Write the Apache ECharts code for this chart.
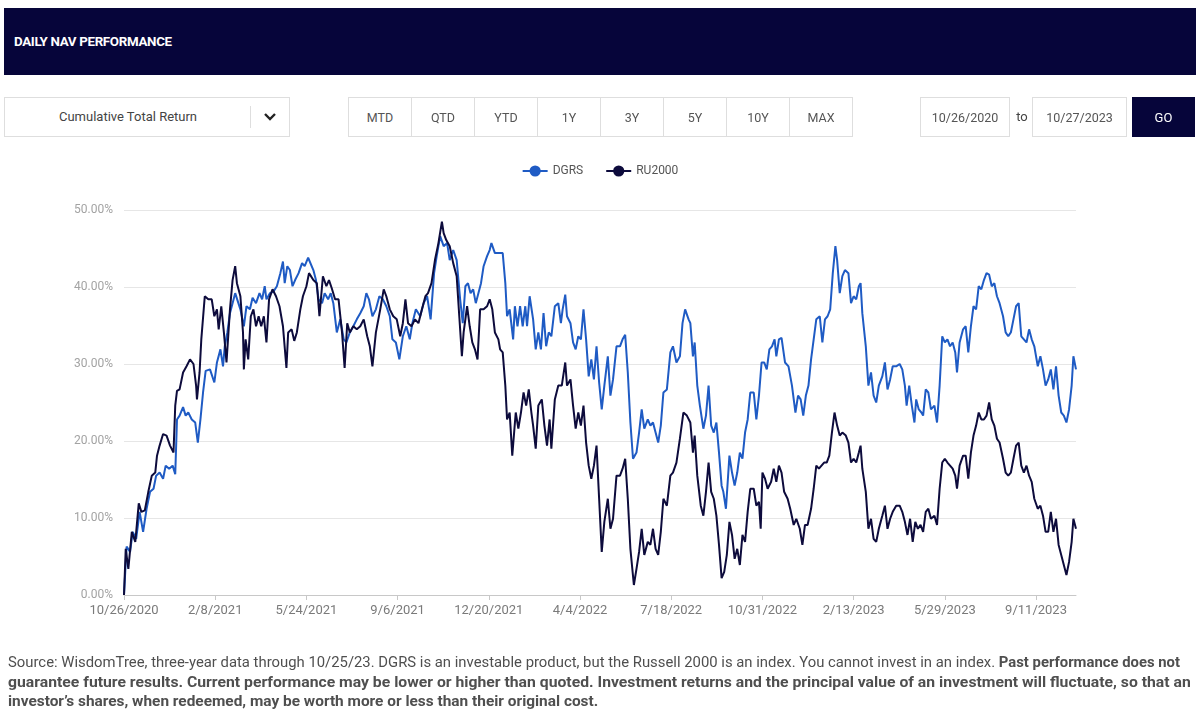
<!DOCTYPE html>
<html>
<head>
<meta charset="utf-8">
<script src="https://cdn.jsdelivr.net/npm/echarts@6/dist/echarts.min.js"></script>
<style>
html,body{margin:0;padding:0;background:#fff;width:1200px;height:722px;overflow:hidden;font-family:Roboto,"Noto Sans",sans-serif;}
#chart{position:absolute;left:0;top:0;width:1200px;height:722px;}
.abs{position:absolute;box-sizing:border-box;}
.header{left:4px;top:8px;width:1192px;height:67px;background:#06053a;}
.title{left:14px;top:34px;color:#fff;font-weight:700;font-size:12px;white-space:nowrap;line-height:16px;transform-origin:left center;letter-spacing:-0.3px;}
.box{border:1px solid #dedede;background:#fff;display:flex;align-items:center;justify-content:center;color:#555;font-size:12.5px;}
.dd{left:4px;top:97px;width:286px;height:40px;border:1px solid #dedede;background:#fff;}
.dd .txt{position:absolute;left:0;width:246px;top:0;height:38px;line-height:38px;text-align:center;font-size:13px;color:#444;}
.dd .sep{position:absolute;left:245px;top:8px;width:1px;height:22px;background:#dedede;}
.dd svg{position:absolute;left:258px;top:13px;}
.btn{top:97px;height:40px;width:64px;}
.go{left:1132px;top:97px;width:63px;height:40px;background:#06053a;color:#fff;font-size:13px;display:flex;align-items:center;justify-content:center;}
.to{left:1013px;top:97px;width:18px;height:40px;line-height:40px;text-align:center;font-size:13px;color:#444;}
.note{left:8px;white-space:nowrap;font-size:14px;line-height:19px;color:#4f4f4f;transform-origin:left center;}
.note b{font-weight:700;}
</style>
</head>
<body>
<div id="chart"></div>
<div class="abs header"></div>
<div class="abs title" id="title">DAILY NAV PERFORMANCE</div>
<div class="abs dd"><div class="txt">Cumulative Total Return</div><div class="sep"></div>
<svg width="14" height="12" viewBox="0 0 14 12"><polyline points="2,3 7,8 12,3" fill="none" stroke="#222" stroke-width="2.4"/></svg></div>
<div id="btns"></div>
<div class="abs box" style="left:920px;top:97px;width:90px;height:40px;">10/26/2020</div>
<div class="abs to">to</div>
<div class="abs box" style="left:1032px;top:97px;width:95px;height:40px;">10/27/2023</div>
<div class="abs go">GO</div>
<div class="abs note" id="n1" style="top:653px;">Source: WisdomTree, three-year data through 10/25/23. DGRS is an investable product, but the Russell 2000 is an index. You cannot invest in an index. <b>Past performance does not</b></div>
<div class="abs note" id="n2" style="top:673px;"><b>guarantee future results. Current performance may be lower or higher than quoted. Investment returns and the principal value of an investment will fluctuate, so that an</b></div>
<div class="abs note" id="n3" style="top:692px;"><b>investor’s shares, when redeemed, may be worth more or less than their original cost.</b></div>
<script>
// ---- data: [days since 10/26/2020, cumulative total return %] ----
const startDate = [2020, 9, 26];
const rangeButtons = ['MTD', 'QTD', 'YTD', '1Y', '3Y', '5Y', '10Y', 'MAX'];
const seriesNames = ['DGRS', 'RU2000'];
const xTickIntervalDays = 105;
const xMaxDays = 1096;
const yTicks = [0, 10, 20, 30, 40, 50];

const dgrsPoints = [
[0,0],[3,6.3],[7,5.6],[10,8.2],[14,7.3],[18,10.8],[22,8.2],[26,11.2],[30,13.4],[34,13.8],[37,15.5],[41,15.9],[45,15.1],[48,16.8],[52,16.4],[56,16.8],[59,15.7],[61,22.8],[64,23.3],[68,24.4],[71,23.3],[74,23.7],[78,22.8],[82,22.4],[85,19.8],[88,22.8],[91,26.3],[94,29.1],[99,29.3],[104,27.6],[107,30.2],[111,31.9],[114,29.7],[116,32.3],[119,34.1],[122,36.6],[128,39.2],[134,37.1],[138,34.9],[141,37.5],[145,37.1],[148,38.6],[152,37.9],[156,39.2],[159,38.4],[162,40.1],[164,38.4],[168,39.2],[172,39.4],[176,40.1],[180,41.8],[183,43.3],[185,40.5],[188,42.7],[191,42.2],[194,40.1],[197,40.9],[201,41.8],[205,43.1],[208,42.7],[212,43.8],
[214,43.8],[218,42.2],[221,40.9],[224,38.4],[228,37.9],[231,39.2],[235,38.4],[238,39.2],[241,37.9],[245,34.1],[249,35.8],[253,33.2],[256,32.8],[260,34.1],[264,34.9],[268,35.8],[272,36.6],[276,37.5],[279,39.2],[282,38.4],[286,36.2],[290,37.1],[294,38.8],[298,38.4],[302,37.5],[306,36.2],[309,33.2],[313,32.8],[317,30.6],[321,33.6],[325,34.9],[329,33.2],[332,35.3],[336,37.1],[341,36.2],[345,37.9],[349,38.8],[353,35.8],[357,41.8],[360,44.0],[364,46.6],[368,45.3],[372,45.7],[375,43.5],[379,44.8],[383,43.5],[387,38.4],[390,35.3],[393,40.1],[396,40.5],[399,39.2],[402,39.7],[405,37.9],[408,39.2],[411,40.5],[414,42.7],[418,44.0],[421,44.8],[423,45.7],[427,44.4],[431,44.4],
[433,44.4],[436,44.4],[439,40.5],[441,36.2],[444,37.1],[448,33.2],[450,37.5],[453,34.9],[456,37.5],[459,34.9],[462,37.5],[464,34.9],[467,38.8],[471,35.8],[474,31.9],[477,34.1],[480,31.9],[483,36.6],[486,32.3],[489,34.1],[492,33.6],[496,37.5],[500,37.9],[503,35.3],[505,37.1],[508,39.0],[510,36.2],[514,35.3],[517,32.8],[520,31.9],[523,33.6],[526,33.2],[529,37.1],[532,33.2],[535,28.4],[538,30.6],[541,28.0],[544,32.3],[547,27.6],[550,24.1],[553,27.2],[557,31.0],[560,25.9],[563,28.0],[567,32.3],[571,32.3],[574,33.2],[577,33.8],[580,28.9],[583,22.4],[586,17.7],[590,18.5],[593,21.1],[596,24.1],[599,21.6],[603,22.8],[606,22.0],[609,22.4],[612,21.1],[615,19.8],[618,22.0],[621,26.3],[625,26.7],[629,31.5],[632,32.3],[636,30.2],[640,31.0],[643,35.3],[646,37.1],[650,35.8],
[652,35.3],[655,31.0],[657,32.8],[660,27.2],[663,24.6],[667,21.6],[670,23.3],[673,27.2],[676,22.0],[679,21.1],[682,22.4],[685,18.5],[688,14.2],[690,13.4],[693,11.2],[697,18.1],[700,15.9],[703,14.2],[706,15.9],[709,18.5],[712,17.7],[715,21.1],[718,22.8],[721,26.3],[725,26.3],[728,22.8],[731,25.9],[734,30.2],[737,30.2],[740,29.3],[743,31.9],[746,32.3],[749,33.2],[751,31.0],[754,33.2],[757,33.4],[761,30.2],[765,29.7],[769,27.2],[773,23.7],[776,25.9],[779,25.4],[782,23.3],[785,25.9],[788,27.2],[791,30.6],[794,33.2],[797,35.8],[801,36.2],[804,32.8],[807,35.8],[810,36.2],[813,37.1],[816,41.8],[819,45.3],[821,43.5],[824,39.2],[827,41.4],[830,42.2],[834,41.8],[837,37.9],[840,38.8],[843,38.4],[846,40.1],[848,40.5],[850,36.6],[854,32.3],[857,27.2],[860,28.9],[863,25.9],[866,25.0],[869,27.2],
[873,28.4],[876,30.2],[879,26.7],[882,28.0],[885,29.7],[889,29.7],[893,30.0],[896,29.3],[899,27.2],[901,24.6],[904,27.2],[907,24.6],[910,22.4],[912,25.4],[915,24.1],[918,23.7],[920,23.3],[923,26.7],[926,26.3],[929,24.1],[933,24.6],[936,22.4],[939,27.2],[942,33.6],[945,32.8],[948,33.2],[951,32.3],[954,32.8],[957,31.5],[959,28.9],[962,32.8],[966,34.5],[969,34.9],[972,31.5],[975,34.9],[978,37.5],[981,37.1],[984,40.1],[987,39.7],[990,40.9],[993,41.8],[996,41.6],[999,40.1],[1002,40.5],[1005,38.8],[1008,37.9],[1012,36.2],[1015,34.1],[1018,33.6],[1021,34.1],[1024,35.8],[1027,37.5],[1030,37.9],[1033,33.6],[1036,33.2],[1039,32.8],[1042,34.5],[1045,33.2],[1048,32.3],[1052,29.7],[1055,31.0],[1058,29.3],[1061,27.2],[1064,28.0],[1067,29.3],[1070,26.7],[1073,29.7],[1076,25.9],[1079,23.7],[1082,23.3],[1085,22.4],[1088,24.1],[1091,27.2],[1093,31.0],[1096,29.3]
];

const ru2000Points = [
[0,0],[2,6.0],[5,3.4],[9,8.2],[13,6.9],[17,11.9],[20,10.8],[24,11.0],[28,13.4],[32,15.5],[36,15.9],[38,18.1],[41,19.4],[45,20.9],[49,20.7],[53,19.4],[57,18.5],[59,24.6],[61,26.5],[64,26.7],[68,28.9],[72,29.7],[76,30.6],[80,30.0],[83,27.2],[84,25.4],[87,28.9],[89,33.2],[93,38.8],[97,38.4],[101,38.4],[104,36.2],[107,37.1],[109,34.5],[112,37.5],[115,34.1],[118,30.2],[122,37.1],[125,40.9],[128,42.7],[130,40.5],[134,38.8],[137,34.1],[138,29.3],[140,33.2],[143,30.6],[146,36.2],[149,37.1],[152,34.9],[155,36.2],[158,34.9],[161,36.2],[164,32.8],[167,38.4],[171,39.7],[175,38.8],[179,37.5],[183,34.9],[187,29.5],[189,34.1],[193,34.5],[196,33.0],[199,34.1],[203,37.1],[206,38.8],[210,40.1],[213,41.8],
[218,40.9],[222,40.5],[225,36.2],[229,41.4],[233,40.1],[236,40.9],[239,39.9],[243,38.4],[247,38.4],[251,34.1],[254,29.5],[257,35.3],[260,34.1],[264,34.9],[268,34.5],[272,34.9],[276,35.8],[280,33.6],[283,32.3],[286,29.7],[290,34.1],[295,37.1],[299,39.7],[302,38.8],[306,37.1],[310,36.2],[314,35.8],[318,33.6],[321,35.3],[324,38.4],[327,35.3],[331,34.9],[335,35.8],[339,35.3],[343,37.1],[347,38.8],[350,39.2],[354,40.5],[358,43.5],[362,45.7],[366,48.5],[368,47.0],[371,46.1],[375,45.3],[379,43.1],[383,41.4],[386,36.2],[389,31.0],[391,34.1],[395,37.5],[398,34.9],[401,32.8],[404,31.9],[407,30.6],[410,37.1],[414,37.1],[418,37.5],[421,38.4],[424,37.1],[427,34.1],[431,33.2],
[433,31.9],[436,31.5],[439,27.2],[441,22.8],[444,23.7],[447,18.1],[451,23.7],[454,21.6],[457,23.7],[460,26.3],[463,24.6],[466,26.7],[469,23.7],[471,22.0],[474,19.0],[477,24.6],[481,25.4],[484,22.0],[487,19.4],[490,22.8],[492,19.0],[496,25.4],[500,27.2],[504,27.2],[508,30.2],[510,27.2],[514,28.0],[517,24.6],[520,21.6],[523,23.7],[526,22.0],[529,24.6],[532,19.8],[535,16.8],[538,15.1],[541,16.8],[544,19.4],[547,12.5],[550,5.6],[553,9.5],[557,12.5],[560,8.6],[563,9.9],[567,15.5],[571,15.5],[574,16.4],[577,17.7],[580,12.5],[583,6.0],[587,1.3],[590,3.4],[593,5.6],[596,8.6],[599,5.2],[603,6.9],[606,6.5],[609,8.6],[612,6.0],[615,5.2],[618,8.2],[621,12.5],[625,11.6],[629,15.5],[632,15.9],[636,17.2],[640,20.3],[644,23.7],[648,23.3],
[652,22.4],[655,18.5],[657,20.7],[660,15.5],[664,11.6],[667,10.3],[670,13.4],[673,17.2],[676,13.4],[679,12.5],[682,10.3],[685,6.5],[688,2.2],[691,3.0],[694,5.2],[697,9.5],[700,7.8],[703,4.7],[706,6.0],[709,3.9],[712,7.8],[715,6.9],[718,10.8],[721,13.8],[725,13.8],[728,11.6],[731,12.1],[733,8.6],[735,15.9],[738,15.1],[741,13.8],[745,14.7],[748,16.4],[751,14.7],[754,16.8],[757,15.9],[760,13.4],[764,12.5],[767,11.2],[771,9.1],[774,9.9],[778,8.6],[781,6.5],[784,9.1],[787,9.1],[791,11.2],[794,13.8],[797,16.8],[800,16.4],[803,16.8],[806,17.2],[809,17.2],[812,18.1],[815,21.1],[818,23.7],[821,22.0],[824,20.7],[827,21.1],[831,20.7],[834,19.8],[837,17.2],[840,17.7],[843,17.2],[846,18.5],[848,19.4],[850,16.4],[854,13.4],[857,8.6],[860,9.9],[863,7.3],[866,6.9],[869,8.6],
[873,10.3],[876,11.6],[879,8.6],[882,9.9],[885,10.8],[889,11.6],[893,11.6],[896,10.8],[899,9.5],[902,7.8],[905,9.9],[908,6.9],[911,9.5],[914,8.6],[917,9.1],[920,8.2],[923,10.8],[926,11.2],[929,9.9],[933,10.3],[936,9.1],[939,13.8],[942,17.2],[945,17.7],[948,17.2],[951,16.8],[954,16.4],[957,15.5],[959,13.8],[962,16.8],[966,18.1],[969,18.1],[972,15.1],[975,18.5],[978,20.7],[981,22.0],[984,23.7],[987,22.8],[990,22.8],[993,23.3],[996,25.0],[999,22.8],[1002,22.0],[1005,20.3],[1008,19.8],[1012,17.7],[1015,15.9],[1018,15.5],[1021,15.9],[1024,17.7],[1027,19.4],[1030,19.8],[1033,16.8],[1036,15.9],[1039,16.8],[1042,15.5],[1045,14.7],[1048,12.5],[1052,11.2],[1055,11.6],[1058,10.3],[1061,8.2],[1064,8.2],[1067,10.8],[1070,8.2],[1073,9.9],[1076,6.5],[1079,5.2],[1082,3.9],[1085,2.6],[1088,4.3],[1091,6.9],[1093,9.9],[1096,8.6]
];

// ---- UI buttons ----
const btnWrap = document.getElementById('btns');
rangeButtons.forEach(function (t, i) {
  const d = document.createElement('div');
  d.className = 'abs box btn';
  d.style.left = (348 + i * 63) + 'px';
  d.textContent = t;
  btnWrap.appendChild(d);
});

function fitWidth(id, w) {
  const el = document.getElementById(id);
  const cur = el.scrollWidth;
  if (cur > 0) el.style.transform = 'scaleX(' + (w / cur) + ')';
}
fitWidth('title', 158);
fitWidth('n1', 1172);
fitWidth('n2', 1183);
fitWidth('n3', 590);

function dayLabel(v) {
  const d = new Date(Date.UTC(startDate[0], startDate[1], startDate[2]) + Math.round(v) * 86400000);
  return (d.getUTCMonth() + 1) + '/' + d.getUTCDate() + '/' + d.getUTCFullYear();
}

const chart = echarts.init(document.getElementById('chart'), null, {renderer: 'canvas'});
chart.setOption({
  animation: false,
  backgroundColor: 'transparent',
  color: ['#1f5bc4', '#0d0b3c'],
  legend: {
    top: 160,
    left: 'center',
    itemWidth: 25,
    itemHeight: 14,
    itemGap: 22,
    textStyle: {color: '#555', fontSize: 12, fontFamily: 'Roboto'},
    data: seriesNames
  },
  grid: {left: 124, right: 124, top: 210, bottom: 127, containLabel: false},
  xAxis: {
    type: 'value',
    min: 0,
    max: xMaxDays,
    interval: xTickIntervalDays,
    axisLine: {lineStyle: {color: '#c8c8c8', width: 1}},
    axisTick: {show: true, length: 5, lineStyle: {color: '#c8c8c8'}},
    splitLine: {show: false},
    axisLabel: {
      color: '#7a7a7a', fontSize: 13, fontFamily: 'Roboto', margin: 9,
      showMaxLabel: false, formatter: dayLabel
    }
  },
  yAxis: {
    type: 'value',
    min: yTicks[0],
    max: yTicks[yTicks.length - 1],
    interval: 10,
    axisLine: {show: false},
    axisTick: {show: false},
    splitLine: {lineStyle: {color: '#e6e6e6', width: 1}},
    axisLabel: {
      color: '#a3a3a3', fontSize: 12, fontFamily: 'Roboto', margin: 11,
      formatter: function (v) { return v.toFixed(2) + '%'; }
    }
  },
  series: [
    {
      name: seriesNames[0], type: 'line', data: dgrsPoints,
      symbol: 'circle', symbolSize: 9, showSymbol: false,
      lineStyle: {width: 2, color: '#1f5bc4'}, itemStyle: {color: '#1f5bc4'}
    },
    {
      name: seriesNames[1], type: 'line', data: ru2000Points,
      symbol: 'circle', symbolSize: 9, showSymbol: false,
      lineStyle: {width: 2, color: '#0d0b3c'}, itemStyle: {color: '#0d0b3c'}
    }
  ]
});
</script>
</body>
</html>
